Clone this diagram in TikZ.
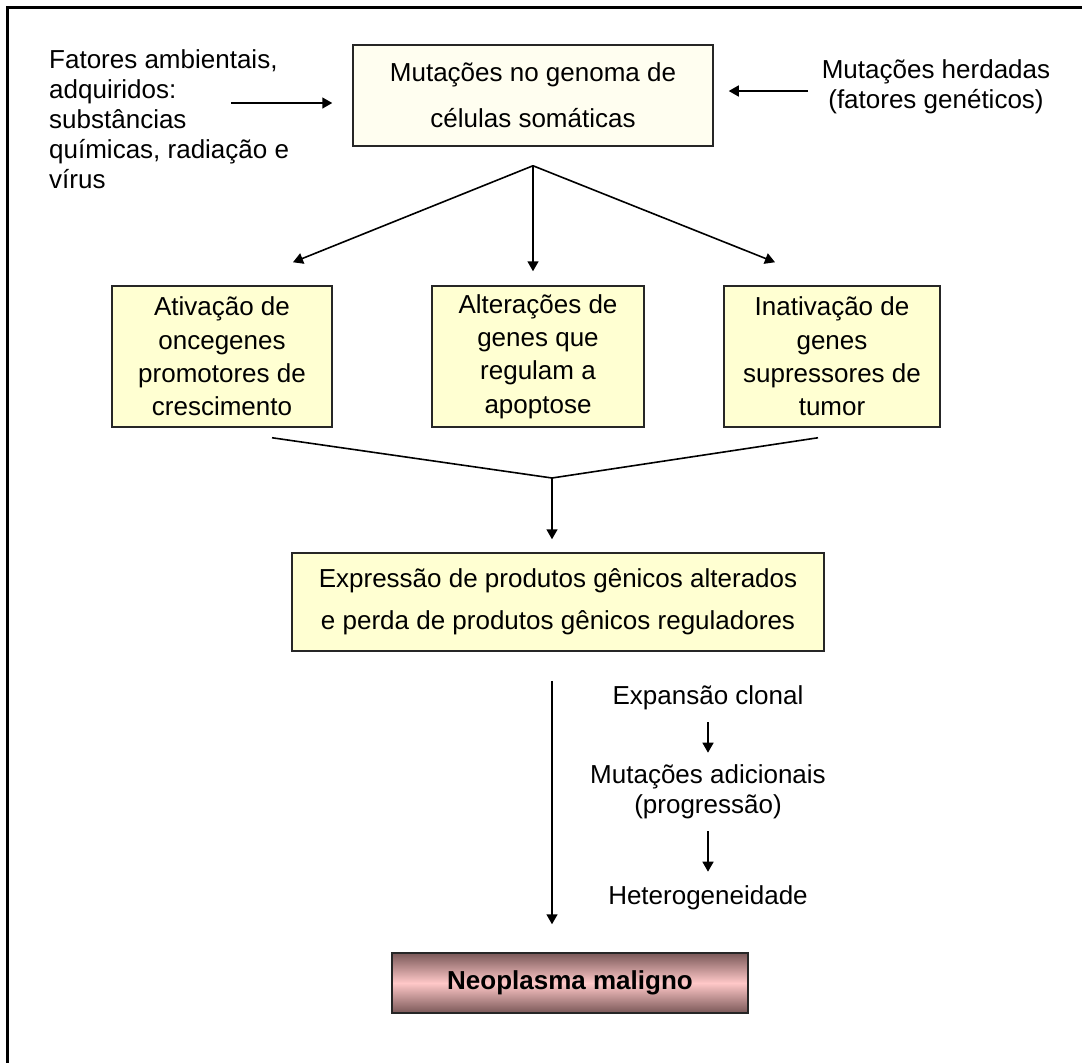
\documentclass[tikz,border=0pt]{standalone}
\usepackage{fontspec}
\setmainfont{Liberation Sans}
\usetikzlibrary{arrows.meta, calc}
\definecolor{cream}{HTML}{FFFEF0}
\definecolor{lemon}{HTML}{FFFFD2}
\definecolor{rosa}{HTML}{FFC8C8}
\definecolor{mauve}{HTML}{7A5858}
\tikzset{
  box/.style={draw=black!85, fill=#1, align=center, line width=1.5pt, inner sep=0pt,
              font=\fontsize{26}{33.3}\selectfont},
  box/.default=lemon,
  arr/.style={-{Triangle[length=10pt, width=11pt]}, line width=1.6pt},
  seg/.style={line width=1.6pt},
  txt/.style={align=center, inner sep=0pt, font=\fontsize{26}{30}\selectfont},
}
\begin{document}
\begin{tikzpicture}[x=1pt, y=-1pt]
  \useasboundingbox (0,0) rectangle (1082,1063);
  \draw[line width=3pt] (7,1063) -- (7,7) -- (1082,7);
  % top row
  \node[box=cream, minimum width=360pt, minimum height=101pt, font=\fontsize{26}{46}\selectfont] (mut) at (533,95.5)
       {Mutações no genoma de\\células somáticas};
  \node[txt, align=left, anchor=north west] (amb) at (49,49)
       {Fatores ambientais,\\adquiridos:\\substâncias\\químicas, radiação e\\vírus};
  \node[txt] (her) at (936,87) {Mutações herdadas\\(fatores genéticos)};
  \coordinate (ambt) at (231,103);
  \coordinate (hert) at (808,91);
  \draw[arr, shorten >=20pt] (ambt) -- (ambt -| mut.west);
  \draw[arr, shorten >=15pt] (hert) -- (hert -| mut.east);
  % three mechanisms
  \node[box, minimum width=220pt, minimum height=141pt] (onc) at (222,356.5)
       {Ativação de\\oncegenes\\promotores de\\crescimento};
  \node[box, minimum width=212pt, minimum height=141pt] (apo) at (538,356.5)
       {Alterações de\\genes que\\regulam a\\apoptose};
  \node[box, minimum width=216pt, minimum height=141pt] (sup) at (832,356.5)
       {Inativação de\\genes\\supressores de\\tumor};
  \coordinate (fan) at ([yshift=-19pt]mut.south);
  \coordinate (tm) at ([yshift=14pt]apo.north);
  \draw[arr] (fan) -- ([xshift=71pt, yshift=23pt]onc.north);
  \draw[arr] (fan) -- (fan |- tm);
  \draw[arr] (fan) -- ([xshift=-57pt, yshift=23pt]sup.north);
  % convergence
  \node[box, minimum width=532pt, minimum height=98pt, font=\fontsize{26}{42}\selectfont] (expr) at (558,602)
       {Expressão de produtos gênicos alterados\\e perda de produtos gênicos reguladores};
  \coordinate (jn) at (552,478);
  \draw[seg] ([xshift=50pt, yshift=-10pt]onc.south) -- (jn) -- ([xshift=-14pt, yshift=-10pt]sup.south);
  \draw[arr, shorten >=13pt] (jn) -- (jn |- expr.north);
  % progression
  \node[box, draw=black!85, top color=mauve, bottom color=mauve, middle color=rosa,
        minimum width=356pt, minimum height=60pt, font=\fontsize{26}{30}\selectfont\bfseries] (neo) at (570,983)
       {Neoplasma maligno};
  \draw[arr, shorten <=29pt, shorten >=28pt] (jn |- expr.south) -- (jn |- neo.north);
  \node[txt] (clon) at (708,698) {Expansão clonal};
  \node[txt] (adic) at (708,792) {Mutações adicionais\\(progressão)};
  \node[txt] (het) at (708,898) {Heterogeneidade};
  \draw[arr, shorten <=12pt, shorten >=12pt] (clon.south) -- (adic.north);
  \draw[arr, shorten <=12pt, shorten >=14pt] (adic.south) -- (het.north);
\end{tikzpicture}
\end{document}
